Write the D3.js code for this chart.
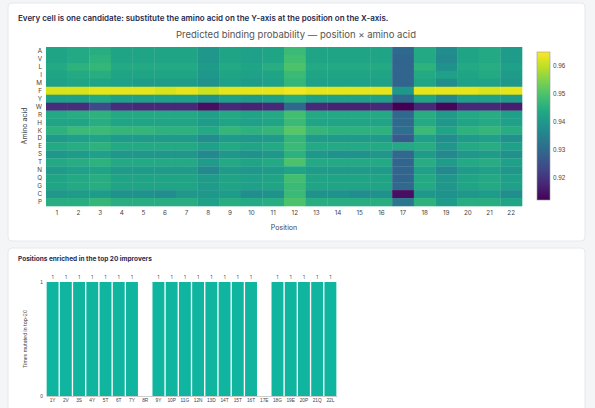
<!DOCTYPE html>
<html><head><meta charset="utf-8">
<script src="https://cdn.jsdelivr.net/npm/d3@7"></script>
<style>body{margin:0;background:#f4f5f7;font-family:Inter,"Open Sans",sans-serif}</style>
</head><body><svg id="c" width="595" height="408"></svg>
<script>
const positions=d3.range(1,23).map(String);
const aminoAcids=["A","V","L","I","M","F","Y","W","R","H","K","D","E","S","T","N","Q","G","C","P"];
const probA=[.943,.944,.945,.943,.943,.943,.943,.940,.943,.942,.943,.948,.943,.943,.943,.943,.930,.944,.938,.943,.944,.941];
const probV=[.943,.944,.946,.943,.943,.943,.943,.940,.943,.942,.943,.949,.943,.943,.943,.943,.929,.944,.937,.943,.944,.941];
const probL=[.944,.946,.947,.944,.944,.944,.944,.941,.944,.943,.945,.950,.944,.944,.944,.944,.929,.946,.939,.944,.945,.942];
const probI=[.943,.944,.945,.943,.943,.943,.943,.940,.943,.942,.943,.948,.943,.943,.943,.943,.929,.944,.942,.943,.944,.941];
const probM=[.942,.943,.943,.942,.941,.941,.941,.939,.942,.941,.942,.947,.942,.942,.942,.942,.929,.943,.938,.942,.942,.940];
const probF=[.962,.962,.963,.963,.963,.962,.963,.961,.963,.963,.963,.964,.963,.963,.963,.963,.940,.963,.963,.963,.962,.963];
const probY=[.942,.942,.944,.942,.942,.942,.942,.939,.942,.941,.942,.945,.942,.942,.942,.942,.930,.943,.937,.942,.942,.941];
const probW=[.919,.919,.924,.919,.918,.918,.918,.914,.918,.917,.918,.930,.918,.917,.917,.918,.912,.918,.913,.918,.918,.916];
const probR=[.944,.945,.946,.944,.944,.944,.944,.942,.944,.943,.944,.949,.944,.944,.944,.944,.930,.945,.941,.944,.945,.942];
const probH=[.943,.943,.945,.943,.943,.943,.943,.941,.943,.942,.943,.948,.943,.943,.943,.943,.930,.944,.940,.943,.944,.942];
const probK=[.946,.948,.948,.947,.947,.946,.946,.944,.947,.946,.947,.951,.947,.946,.946,.946,.931,.948,.943,.946,.947,.945];
const probD=[.941,.942,.943,.941,.941,.941,.941,.938,.941,.940,.941,.947,.941,.941,.941,.941,.927,.942,.938,.941,.942,.939];
const probE=[.944,.945,.946,.944,.944,.944,.944,.942,.944,.943,.944,.948,.944,.944,.944,.944,.944,.945,.940,.944,.945,.942];
const probS=[.940,.941,.942,.940,.940,.940,.940,.937,.940,.939,.940,.946,.940,.939,.939,.940,.930,.941,.937,.940,.941,.939];
const probT=[.944,.945,.946,.944,.944,.944,.944,.941,.944,.943,.944,.950,.944,.944,.944,.944,.929,.945,.941,.944,.945,.942];
const probN=[.941,.942,.943,.941,.941,.941,.941,.937,.941,.940,.941,.943,.941,.941,.941,.941,.929,.942,.937,.941,.942,.940];
const probQ=[.943,.944,.945,.943,.943,.943,.943,.941,.943,.942,.943,.949,.943,.943,.943,.943,.929,.944,.940,.943,.944,.942];
const probG=[.943,.944,.945,.943,.943,.943,.943,.941,.943,.942,.943,.948,.943,.943,.943,.943,.930,.944,.940,.943,.944,.942];
const probC=[.940,.941,.941,.939,.939,.938,.940,.940,.941,.938,.939,.948,.939,.939,.938,.939,.914,.940,.939,.940,.941,.938];
const probP=[.945,.945,.947,.945,.945,.945,.945,.942,.945,.944,.945,.950,.945,.945,.945,.945,.933,.946,.941,.945,.945,.943];
const matrix=[probA,probV,probL,probI,probM,probF,probY,probW,probR,probH,probK,probD,probE,probS,probT,probN,probQ,probG,probC,probP];
const colorTicks=[0.92,0.93,0.94,0.95,0.96];
const barLabels=["1Y","2V","3S","4Y","5T","6T","7Y","8R","9Y","10P","11G","12N","13D","14T","15T","16T","17E","18G","19E","20P","21Q","22L"];
const barValues=[1,1,1,1,1,1,1,0,1,1,1,1,1,1,1,1,0,1,1,1,1,1];

const svg=d3.select("#c");
svg.append("rect").attr("x",8).attr("y",3).attr("width",577).attr("height",238).attr("rx",4).attr("fill","#fff").attr("stroke","#e6e8ec");
svg.append("rect").attr("x",8).attr("y",248).attr("width",577).attr("height",170).attr("rx",4).attr("fill","#fff").attr("stroke","#e6e8ec");
svg.append("text").attr("x",18).attr("y",21).attr("font-size",8).attr("font-weight",600).attr("fill","#1f2a4d").text("Every cell is one candidate: substitute the amino acid on the Y-axis at the position on the X-axis.");
svg.append("text").attr("x",296).attr("y",38).attr("text-anchor","middle").attr("font-size",9.5).attr("fill","#555").text("Predicted binding probability — position × amino acid");

const x=d3.scaleBand().domain(positions).range([46,522]);
const y=d3.scaleBand().domain(aminoAcids).range([47,206]);
const cdom=[0.912,0.965];
const col=d3.scaleSequential(d3.interpolateViridis).domain(cdom);
const cells=[];
matrix.forEach((r,i)=>r.forEach((v,j)=>cells.push({a:aminoAcids[i],p:positions[j],v})));
svg.append("g").selectAll("rect").data(cells).join("rect")
 .attr("x",d=>x(d.p)).attr("y",d=>y(d.a)).attr("width",x.bandwidth()+0.3).attr("height",y.bandwidth()+0.3).attr("fill",d=>col(d.v));
const ax=svg.append("g").attr("transform","translate(0,206)").call(d3.axisBottom(x).tickSize(0).tickPadding(5));
const ay=svg.append("g").attr("transform","translate(46,0)").call(d3.axisLeft(y).tickSize(0).tickPadding(4));
[ax,ay].forEach(a=>{a.select(".domain").remove();a.selectAll("text").attr("font-size",6.3).attr("fill","#444").attr("font-family","Inter,sans-serif");});
svg.append("text").attr("x",284).attr("y",230).attr("text-anchor","middle").attr("font-size",7).attr("fill","#444").text("Position");
svg.append("text").attr("transform","translate(27,126) rotate(-90)").attr("text-anchor","middle").attr("font-size",7).attr("fill","#444").text("Amino acid");
const cb=d3.scaleLinear().domain(cdom).range([200,52]);
const defs=svg.append("defs");
const lg=defs.append("linearGradient").attr("id","g").attr("x1",0).attr("x2",0).attr("y1",1).attr("y2",0);
d3.range(0,1.01,0.1).forEach(t=>lg.append("stop").attr("offset",t).attr("stop-color",d3.interpolateViridis(t)));
svg.append("rect").attr("x",537).attr("y",52).attr("width",13).attr("height",148).attr("fill","url(#g)").attr("stroke","#999").attr("stroke-width",0.6);
const ac=svg.append("g").attr("transform","translate(550,0)").call(d3.axisRight(cb).tickValues(colorTicks).tickSize(0).tickPadding(3).tickFormat(d3.format(".2f")));
ac.select(".domain").remove();ac.selectAll("text").attr("font-size",6.3).attr("fill","#444");

svg.append("text").attr("x",18).attr("y",261).attr("font-size",6.5).attr("font-weight",700).attr("fill","#1f2a4d").text("Positions enriched in the top 20 improvers");
const bx=d3.scaleBand().domain(barLabels).range([46,337]).paddingInner(0.1).paddingOuter(0.05);
const by=d3.scaleLinear().domain([0,1]).range([396,282]);
svg.append("g").selectAll("rect").data(barLabels).join("rect")
 .attr("x",d=>bx(d)).attr("width",bx.bandwidth()).attr("y",(d,i)=>by(barValues[i])).attr("height",(d,i)=>by(0)-by(barValues[i])).attr("fill","#10b5a0");
svg.append("g").selectAll("text").data(barLabels.filter((d,i)=>barValues[i]>0)).join("text")
 .attr("x",d=>bx(d)+bx.bandwidth()/2).attr("y",by(1)-3).attr("text-anchor","middle").attr("font-size",4.5).attr("fill","#444").text("1");
const bax=svg.append("g").attr("transform","translate(0,396)").call(d3.axisBottom(bx).tickSize(0).tickPadding(3));
bax.select(".domain").attr("stroke","#ccc");bax.selectAll("text").attr("font-size",4.8).attr("fill","#444");
const bay=svg.append("g").attr("transform","translate(46,0)").call(d3.axisLeft(by).tickValues([0,1]).tickSize(0).tickPadding(3).tickFormat(d3.format("d")));
bay.select(".domain").remove();bay.selectAll("text").attr("font-size",4.8).attr("fill","#444");
svg.append("text").attr("transform","translate(27,339) rotate(-90)").attr("text-anchor","middle").attr("font-size",5).attr("fill","#444").text("Times mutated in top-20");
</script></body></html>
